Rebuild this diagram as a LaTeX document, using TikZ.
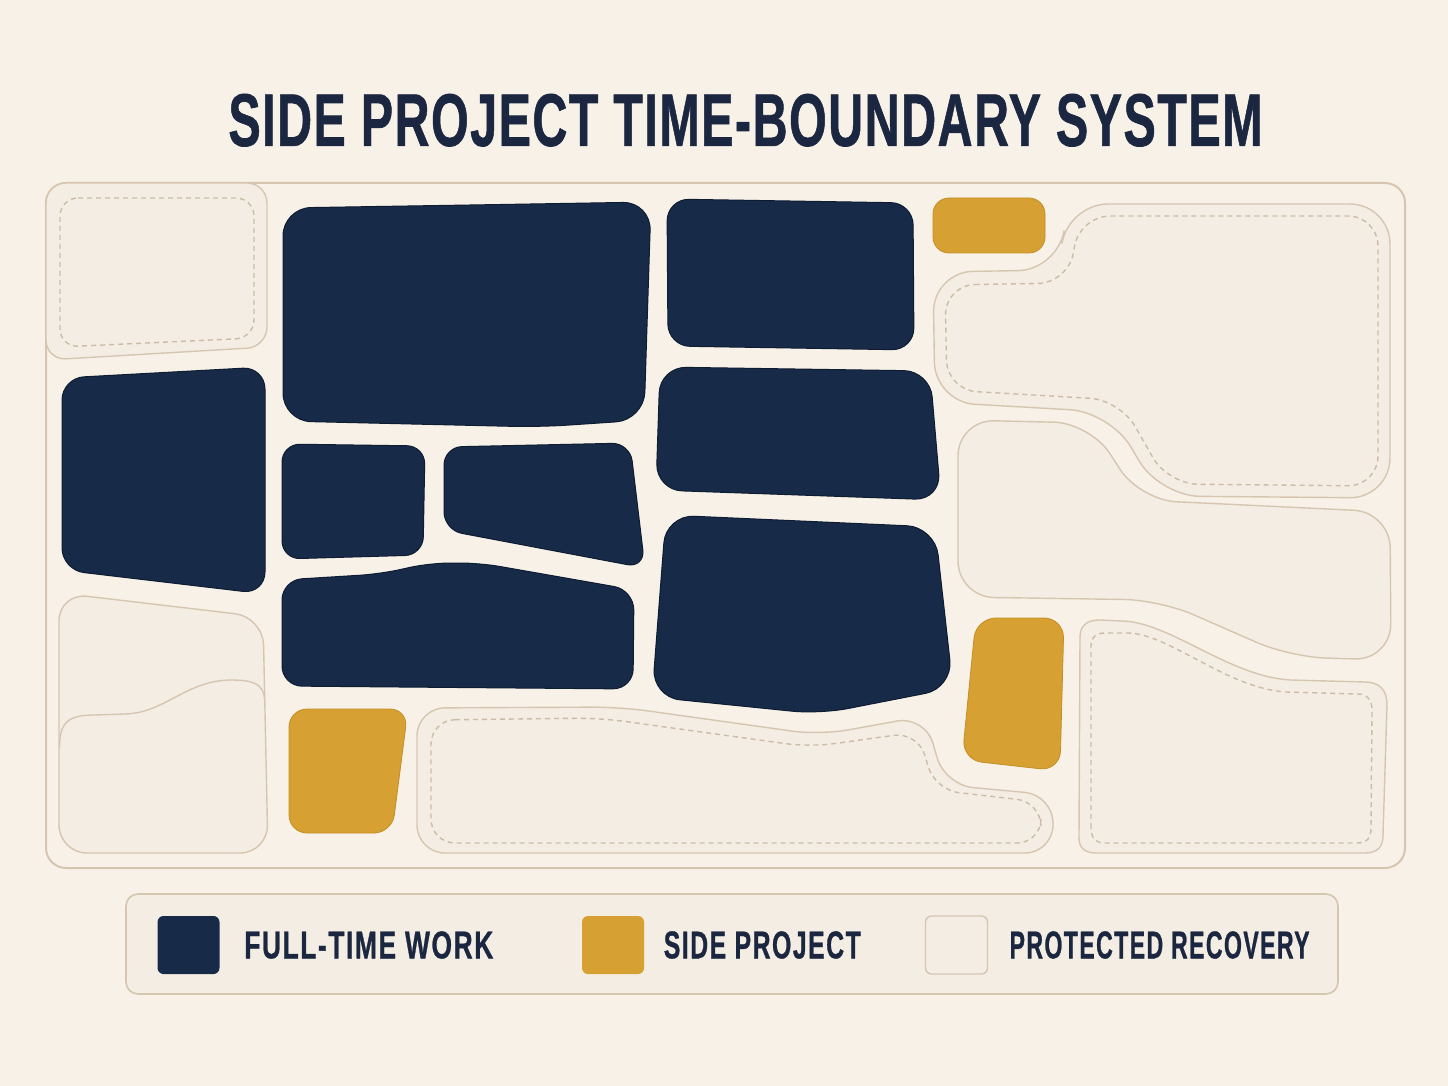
\documentclass[tikz,border=0pt]{standalone}
\usepackage{fontspec}
\setmainfont{Liberation Sans}
\newfontfamily\headfont[FakeBold=1]{Liberation Sans}
\usetikzlibrary{positioning}

\definecolor{paper}{RGB}{247,241,231}
\definecolor{restfill}{RGB}{244,237,227}
\definecolor{tanline}{RGB}{214,198,176}
\definecolor{tandash}{RGB}{204,188,166}
\definecolor{navy}{RGB}{23,42,72}
\definecolor{navyedge}{RGB}{14,28,50}
\definecolor{gold}{RGB}{214,160,50}
\definecolor{goldedge}{RGB}{196,142,38}
\definecolor{ink}{RGB}{27,39,64}

\begin{document}
\begin{tikzpicture}[x=0.5pt, y=-0.5pt,
        worktime/.style={fill=navy, draw=navyedge, line width=0.5pt, rounded corners=11pt},
        sideproj/.style={fill=gold, draw=goldedge, line width=0.4pt, rounded corners=8pt},
        recovery/.style={fill=restfill, draw=tanline, line width=0.7pt, rounded corners=14pt},
        guard/.style={draw=tandash, line width=0.7pt, dash pattern=on 2.5pt off 2pt, rounded corners=12pt},
        swatch/.style={minimum width=31pt, minimum height=29pt, inner sep=0pt, rounded corners=3pt},
        legendtext/.style={inner sep=0pt, text=ink}]
        \useasboundingbox (0,0) rectangle (1448,1086);
        \fill[paper] (0,0) rectangle (1448,1086);

        %% Title
        \node[legendtext, anchor=south west] (title) at (228,147) {\resizebox{517pt}{26pt}{\headfont\bfseries\addfontfeature{LetterSpace=3}SIDE PROJECT TIME-BOUNDARY SYSTEM}};

        %% Week frame
        \draw[tanline, line width=1pt, rounded corners=10pt] (46,183) rectangle (1405,868);

        %% Protected recovery
        \draw[recovery, rounded corners=10pt] (46,183) -- (267,183) -- (267,347) -- (46,360) -- cycle;
        \draw[guard, rounded corners=9pt] (60,198) -- (254,198) -- (254,338) -- (60,347) -- cycle;

        \draw[recovery, rounded corners=20pt] (933,272) -- (1058,270) -- (1068,204) -- (1390,204) -- (1390,498) -- (1160,496) -- (1110,412) -- (935,402) -- cycle;
        \draw[guard, rounded corners=15pt] (945,285) -- (1068,283) -- (1080,216) -- (1378,216) -- (1378,486) -- (1168,484) -- (1120,400) -- (947,390) -- cycle;

        \draw[recovery, rounded corners=18pt] (958,420) -- (1090,423) -- (1140,500) -- (1390,512) -- (1391,660) -- (1290,657) -- (1160,600) -- (958,597) -- cycle;

        \draw[recovery, sharp corners] (1079,838) -- (1080,638) .. controls (1080,626) and (1086,620) .. (1100,620) -- (1122,621) .. controls (1170,622) and (1228,676) .. (1290,680) -- (1365,682) .. controls (1379,682) and (1387,690) .. (1387,704) -- (1383,836) .. controls (1383,847) and (1377,853) .. (1365,853) -- (1096,853) .. controls (1085,853) and (1079,848) .. (1079,838) -- cycle;
        \draw[guard, sharp corners] (1091,828) -- (1091,646) .. controls (1091,638) and (1095,633) .. (1105,633) -- (1128,633) .. controls (1170,634) and (1226,688) .. (1286,692) -- (1358,694) .. controls (1367,694) and (1372,700) .. (1372,710) -- (1371,828) .. controls (1371,838) and (1367,843) .. (1357,843) -- (1105,843) .. controls (1096,843) and (1091,838) .. (1091,828) -- cycle;

        \draw[recovery, rounded corners=14pt] (417,708) -- (620,707) -- (820,735) -- (925,716) -- (945,785) -- (1053,795) -- (1053,853) -- (417,853) -- cycle;
        \draw[guard, rounded corners=12pt] (431,720) -- (600,718) -- (810,747) -- (918,732) -- (935,790) -- (1041,802) -- (1041,843) -- (431,843) -- cycle;

        \draw[recovery, rounded corners=14pt] (59,593) -- (263,617) -- (268,853) -- (59,853) -- cycle;
        \draw[tanline, line width=0.7pt] (59.5,748) .. controls (59.5,722) and (68,715) .. (95,715) -- (125,714) .. controls (165,713) and (185,681) .. (230,680) .. controls (252,680) and (264,683) .. (264.6,700);

        %% Full-time work
        \draw[worktime] (62,378) -- (265,367) -- (265,594) -- (62,570) -- cycle;
        \draw[worktime, rounded corners=14pt] (283,208) -- (470,205) -- (651,202) -- (644,420) -- (540,427) -- (283,421) -- cycle;
        \draw[worktime] (667,199) -- (913,203) -- (914,350) -- (668,346) -- cycle;
        \draw[worktime, rounded corners=13pt] (660,367) -- (930,371) -- (941,500) -- (656,490) -- cycle;
        \draw[worktime, rounded corners=9pt] (282,444) -- (425,446) -- (423,555) -- (282,559) -- cycle;
        \draw[worktime, rounded corners=9pt] (444,447) -- (630,443) -- (645,568) -- (444,530) -- cycle;
        \draw[worktime, rounded corners=10pt] (282,580) -- (380,574) -- (430,563) -- (480,563) -- (634,590) -- (633,689) -- (282,686) -- cycle;
        \draw[worktime, rounded corners=14pt] (666,515) -- (935,527) -- (953,688) -- (820,714) -- (652,697) -- cycle;

        %% Side project
        \draw[sideproj] (933,198) -- (1045,198) -- (1045,253) -- (933,253) -- cycle;
        \draw[sideproj, rounded corners=9pt] (289,709) -- (408,709) -- (392,833) -- (289,833) -- cycle;
        \draw[sideproj, rounded corners=10pt] (976,618) -- (1064,618) -- (1060,771) -- (962,760) -- cycle;

        %% Legend
        \draw[tanline, fill=restfill, line width=0.8pt, rounded corners=6pt] (126,894) rectangle (1338,994);
        \node[swatch, fill=navy] (swwork) at (188.5,945) {};
        \node[legendtext, right=12pt of swwork] (labwork) {\resizebox{124.5pt}{13.5pt}{\headfont\bfseries\addfontfeature{LetterSpace=6}FULL-TIME WORK}};
        \node[swatch, fill=gold] (swside) at (613,945) {};
        \node[legendtext, right=9.5pt of swside] (labside) {\resizebox{98.5pt}{13.5pt}{\headfont\bfseries\addfontfeature{LetterSpace=6}SIDE PROJECT}};
        \node[swatch, fill=restfill, draw=tanline, line width=0.7pt] (swrest) at (956.5,945) {};
        \node[legendtext, right=10.5pt of swrest] (labrest) {\resizebox{150pt}{13.5pt}{\headfont\bfseries\addfontfeature{LetterSpace=6}PROTECTED RECOVERY}};
\end{tikzpicture}
\end{document}
